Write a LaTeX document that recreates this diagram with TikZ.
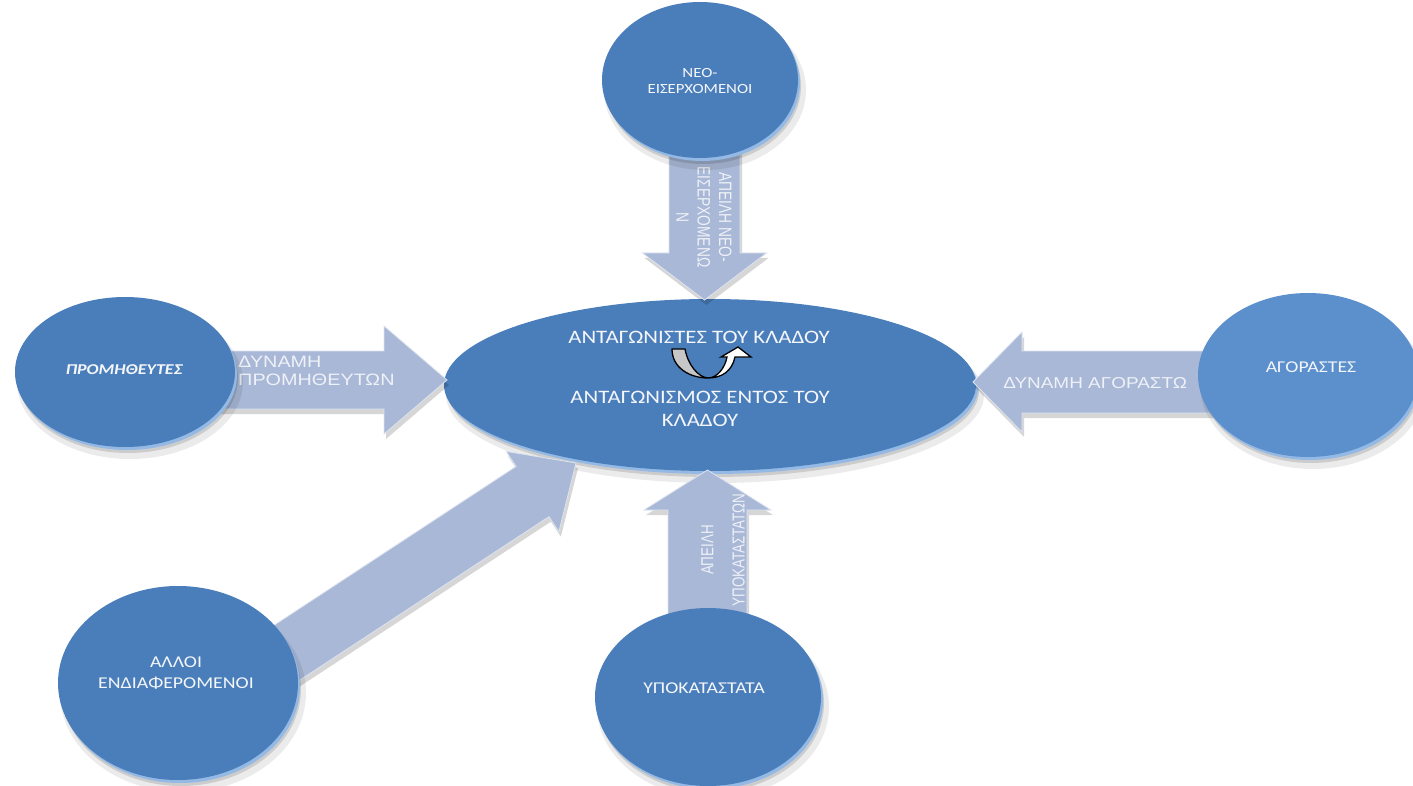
\documentclass[tikz,border=0pt]{standalone}
\usepackage{fontspec}
\setmainfont{Carlito}
\newfontfamily\arialf{Liberation Sans}
\usetikzlibrary{calc,shapes.geometric}
\definecolor{cblue}{HTML}{4A7EBB}
\definecolor{cblueR}{HTML}{5B90CC}
\definecolor{rimc}{HTML}{93B9E4}
\definecolor{arrc}{HTML}{A9B8D6}
\definecolor{arredge}{HTML}{DCE3F0}
\definecolor{txtc}{HTML}{F4F6FA}
\definecolor{arrtxt}{HTML}{EEF1F7}
\pgfdeclarelayer{bg}\pgfdeclarelayer{arr}\pgfsetlayers{bg,arr,main}
\newcommand\myfs[2]{\fontsize{#1}{#2}\selectfont}
% name, center, rx, ry, colour
\newcommand\bubble[5]{%
  \fill[black,opacity=0.08] ($(#2)+(5,10)$) ellipse [x radius=#3pt+3pt, y radius=#4pt+2pt];
  \fill[black,opacity=0.13] ($(#2)+(3,6)$) ellipse [x radius=#3pt, y radius=#4pt];
  \fill[rimc] ($(#2)+(2,3)$) ellipse [x radius=#3pt, y radius=#4pt];
  \node[bub, fill=#5, minimum width=#3pt*2, minimum height=#4pt*2] (#1) at (#2) {};
}
% start, tip, half shaft, half head, head length
\newcommand\arrowoutline[5]{($(#1)!#3pt!90:(#2)$) -- ($(bac)!#3pt!-90:(#1)$) -- ($(bac)!#4pt!-90:(#1)$) -- (#2) -- ($(bac)!#4pt!90:(#1)$) -- ($(bac)!#3pt!90:(#1)$) -- ($(#1)!#3pt!-90:(#2)$) -- cycle}
\newcommand\blockarrow[5]{%
  \coordinate (bac) at ($(#2)!#5pt!(#1)$);
  \path[arrshadow] \arrowoutline{#1}{#2}{#3}{#4}{#5};
  \path[arrbody] \arrowoutline{#1}{#2}{#3}{#4}{#5};
}
\begin{document}
\begin{tikzpicture}[x=1pt,y=-1pt,
  bub/.style={ellipse, inner sep=0pt, draw=none},
  arrbody/.style={fill=arrc, draw=arredge, line width=0.8pt, line join=miter},
  arrshadow/.style={fill=black, opacity=0.16, transform canvas={shift={(2pt,-5pt)}}},
  ctext/.style={text=txtc, align=center, inner sep=0pt, xscale=1.2},
  atext/.style={text=arrtxt, inner sep=0pt},
]
\useasboundingbox (0,0) rectangle (1413,786);

\begin{pgfonlayer}{bg}
  \fill[white] (0,0) rectangle (1413,786);
  \bubble{cen}{710,385}{266}{86}{cblue}
  \node[ctext, anchor=north, font=\myfs{19}{23}] (cen-t1) at (699,331) {ΑΝΤΑΓΩΝΙΣΤΕΣ ΤΟΥ ΚΛΑΔΟΥ};
  \node[ctext, anchor=north, font=\myfs{19}{23}] (cen-t2) at (700,391) {ΑΝΤΑΓΩΝΙΣΜΟΣ ΕΝΤΟΣ ΤΟΥ\\ΚΛΑΔΟΥ};
  % U-turn arrow
  \draw[line width=1.3pt, fill=black!22, line join=round]
    (672,349) -- (685,349) .. controls (688,365) and (698,377) .. (708,378)
    .. controls (690,378) and (672,368) .. (672,349) -- cycle;
  \draw[line width=1.3pt, fill=white, line join=miter]
    (708,378) .. controls (717,378) and (725,368) .. (727,357) -- (721,357) -- (738,347)
    -- (751,357) -- (735,357) .. controls (732,371) and (722,378) .. (708,378) -- cycle;
\end{pgfonlayer}

\coordinate (ta) at (704.5,140);  \coordinate (tb) at (704.5,300);
\coordinate (la) at (180,380);    \coordinate (lb) at (447,380);
\coordinate (ra) at (1260,382);   \coordinate (rb) at (973,382);
\coordinate (ba) at (707.5,660);  \coordinate (bb) at (707.5,470);
\coordinate (da) at (256,673);    \coordinate (db) at (576,463);

\begin{pgfonlayer}{arr}
  \blockarrow{ta}{tb}{35.5}{62}{47}
  \blockarrow{la}{lb}{29}{54}{63}
  \blockarrow{ra}{rb}{31}{50}{49}
  \blockarrow{ba}{bb}{39.5}{63.5}{40}
  \blockarrow{da}{db}{30}{48}{52}
  \node[atext, rotate=-90, yscale=1.3, align=center, font=\arialf\myfs{13.8}{16.5}] (ta-t) at (704,217) {ΑΠΕΙΛΗ ΝΕΟ-\\ΕΙΣΕΡΧΟΜΕΝΩ\\Ν};
  \node[atext, xscale=1.2, anchor=north west, align=left, font=\arialf\myfs{16.5}{18}] (la-t) at (238,356) {ΔΥΝΑΜΗ\\ΠΡΟΜΗΘΕΥΤΩΝ};
  \node[atext, xscale=1.2, anchor=base west, font=\arialf\myfs{15.8}{18}] (ra-t) at (1003,388) {ΔΥΝΑΜΗ ΑΓΟΡΑΣΤΩ};
  \node[atext, rotate=90, yscale=1.3, align=center, font=\arialf\myfs{13.4}{24}] (ba-t) at (723,550) {ΑΠΕΙΛΗ\\ΥΠΟΚΑΤΑΣΤΑΤΩΝ};
\end{pgfonlayer}

\bubble{new}{700,80}{98}{78}{cblue}
\node[ctext, anchor=north, font=\myfs{14}{16}] (new-t) at (700,68) {ΝΕΟ-\\ΕΙΣΕΡΧΟΜΕΝΟΙ};
\bubble{sup}{125,372}{110}{75}{cblue}
\node[ctext, font=\bfseries\itshape\myfs{15}{18}] (sup-t) at (124,370) {ΠΡΟΜΗΘΕΥΤΕΣ};
\bubble{buy}{1308,375}{110}{82}{cblueR}
\node[ctext, font=\myfs{16.5}{18}] (buy-t) at (1311,367) {ΑΓΟΡΑΣΤΕΣ};
\bubble{sub}{708,697}{113}{89}{cblue}
\node[ctext, font=\myfs{16.5}{19}] (sub-t) at (704,688) {ΥΠΟΚΑΤΑΣΤΑΤΑ};
\bubble{oth}{178,683}{120}{97}{cblue}
\node[ctext, anchor=north, font=\myfs{16.5}{21}] (oth-t) at (176,657) {ΑΛΛΟΙ\\ΕΝΔΙΑΦΕΡΟΜΕΝΟΙ};
\end{tikzpicture}
\end{document}
